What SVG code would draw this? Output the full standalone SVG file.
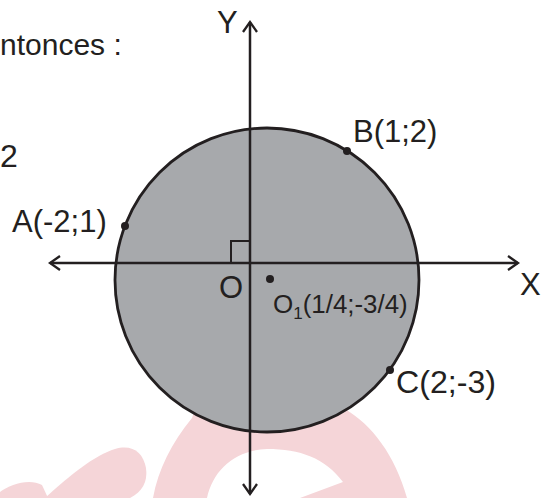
<svg xmlns="http://www.w3.org/2000/svg" width="554" height="498" viewBox="0 0 554 498">
<style>
.t{font-family:"Liberation Sans",Arial,sans-serif;fill:#231f20}
.lb{font-size:31px}
.ax{stroke:#231f20;stroke-width:2.5;fill:none}
.dot{fill:#231f20}
.wm{fill:#f5d5d8}
</style>
<defs>
<marker id="arr" markerWidth="14" markerHeight="16" refX="11" refY="8" orient="auto" markerUnits="userSpaceOnUse">
<path d="M1,1 L11,8 L1,15" fill="none" stroke="#231f20" stroke-width="2.3"/>
</marker>
</defs>
<rect width="554" height="498" fill="#fff"/>
<g id="watermark">
<path class="wm" d="M0,492 C10,484 30,478 42,485 L48,498 L0,498 Z"/>
<path class="wm" d="M45,498 C70,475 95,455 115,449 C132,444 143,452 146,468 C148,482 142,492 130,498 Z"/>
<path class="wm" d="M153,498 C158,470 172,442 192,418 L200,395 L340,392 L345,409 C372,425 395,455 407,498 L300,498 L343,482 C325,458 300,449 267,449 C235,450 213,470 207,498 Z"/>
</g>
<g id="circle">
<circle cx="267" cy="280" r="152" fill="#a7a9ac" stroke="#231f20" stroke-width="2.8"/>
</g>
<g id="connectors">
<line class="ax" x1="250" y1="263" x2="50" y2="263" marker-end="url(#arr)"/>
<line class="ax" x1="250" y1="263" x2="518" y2="263" marker-end="url(#arr)"/>
<line class="ax" x1="250" y1="263" x2="250" y2="22" marker-end="url(#arr)"/>
<line class="ax" x1="250" y1="263" x2="250" y2="494" marker-end="url(#arr)"/>
<path d="M231,263 V241 H250" fill="none" stroke="#231f20" stroke-width="2"/>
</g>
<g id="text-top">
<text class="t" x="0" y="55" font-size="30">ntonces :</text>
<text class="t" x="0" y="167" font-size="32">2</text>
</g>
<g id="axis-labels">
<text class="t lb" x="217" y="33">Y</text>
<text class="t lb" x="520" y="295">X</text>
<text class="t lb" x="219" y="298">O</text>
</g>
<g id="point-A">
<circle class="dot" cx="125" cy="226" r="4"/>
<text class="t lb" x="12" y="232">A(-2;1)</text>
</g>
<g id="point-B">
<circle class="dot" cx="347" cy="151" r="4"/>
<text class="t lb" x="353" y="142">B(1;2)</text>
</g>
<g id="point-C">
<circle class="dot" cx="390" cy="370" r="4"/>
<text class="t lb" x="396" y="393" textLength="100" lengthAdjust="spacingAndGlyphs">C(2;-3)</text>
</g>
<g id="point-O1">
<circle class="dot" cx="270" cy="279" r="4"/>
<text class="t" x="273" y="313" font-size="26">O<tspan font-size="17" dy="6">1</tspan><tspan dy="-6" textLength="105" lengthAdjust="spacingAndGlyphs">(1/4;-3/4)</tspan></text>
</g>
</svg>
